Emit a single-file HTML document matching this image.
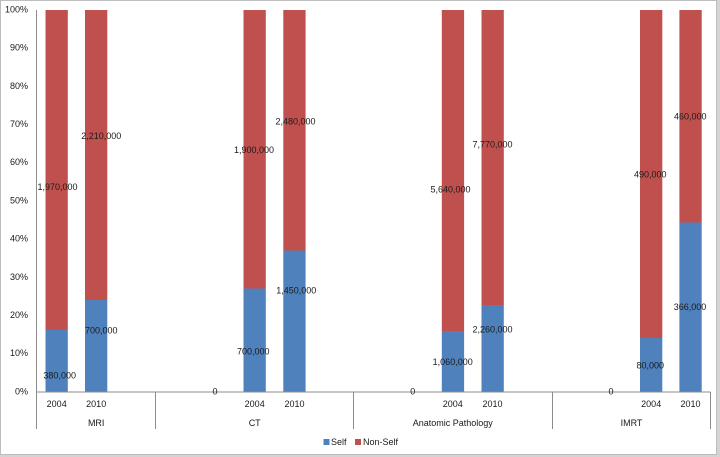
<!DOCTYPE html>
<html><head><meta charset="utf-8"><style>
html,body{margin:0;padding:0;background:#d4d4d4;}
svg{display:block;}
text{font-family:"Liberation Sans",Arial,sans-serif;font-size:9px;fill:#1a1a1a;}
</style></head><body>
<svg width="720" height="457" viewBox="0 0 720 457" xmlns="http://www.w3.org/2000/svg">
<rect x="0" y="0" width="720" height="457" fill="#d4d4d4"/>
<rect x="0.5" y="0.5" width="716" height="454" fill="#ffffff" stroke="#bdbdbd" stroke-width="1"/>

<!-- y axis labels -->
<g text-anchor="end" dominant-baseline="middle">
<text x="28" y="10">100%</text>
<text x="28" y="48.2">90%</text>
<text x="28" y="86.4">80%</text>
<text x="28" y="124.6">70%</text>
<text x="28" y="162.8">60%</text>
<text x="28" y="201">50%</text>
<text x="28" y="239.2">40%</text>
<text x="28" y="277.4">30%</text>
<text x="28" y="315.6">20%</text>
<text x="28" y="353.8">10%</text>
<text x="28" y="392">0%</text>
</g>

<!-- bars: self (blue) bottom, non-self (red) top -->
<g>
<rect x="45.5" y="10" width="22.3" height="319.5" fill="#C0504D"/>
<rect x="45.5" y="329.5" width="22.3" height="62.5" fill="#4F81BD"/>
<rect x="85" y="10" width="22.3" height="290" fill="#C0504D"/>
<rect x="85" y="300" width="22.3" height="92" fill="#4F81BD"/>

<rect x="243.5" y="10" width="22.3" height="278.5" fill="#C0504D"/>
<rect x="243.5" y="288.5" width="22.3" height="103.5" fill="#4F81BD"/>
<rect x="283.3" y="10" width="22.3" height="240.5" fill="#C0504D"/>
<rect x="283.3" y="250.5" width="22.3" height="141.5" fill="#4F81BD"/>

<rect x="441.8" y="10" width="22.3" height="321" fill="#C0504D"/>
<rect x="441.8" y="331" width="22.3" height="61" fill="#4F81BD"/>
<rect x="481.5" y="10" width="22.3" height="295" fill="#C0504D"/>
<rect x="481.5" y="305" width="22.3" height="87" fill="#4F81BD"/>

<rect x="640" y="10" width="22.3" height="328" fill="#C0504D"/>
<rect x="640" y="338" width="22.3" height="54" fill="#4F81BD"/>
<rect x="679.4" y="10" width="22.3" height="212.5" fill="#C0504D"/>
<rect x="679.4" y="222.5" width="22.3" height="169.5" fill="#4F81BD"/>
</g>

<!-- axes -->
<g stroke="#8c8c8c" stroke-width="1" fill="none">
<line x1="36.5" y1="10" x2="36.5" y2="429"/>
<line x1="36.5" y1="392" x2="710.5" y2="392"/>
<line x1="155.5" y1="392" x2="155.5" y2="429"/>
<line x1="353.5" y1="392" x2="353.5" y2="429"/>
<line x1="552.5" y1="392" x2="552.5" y2="429"/>
<line x1="710.5" y1="392" x2="710.5" y2="429"/>
</g>

<!-- data labels -->
<g text-anchor="middle" dominant-baseline="middle">
<text x="57.5" y="187.7">1,970,000</text>
<text x="59.7" y="376">380,000</text>
<text x="101.3" y="136.7">2,210,000</text>
<text x="101.3" y="331">700,000</text>

<text x="215" y="392">0</text>
<text x="254" y="150.7">1,900,000</text>
<text x="253.3" y="352.3">700,000</text>
<text x="295.5" y="122">2,480,000</text>
<text x="296.3" y="291">1,450,000</text>

<text x="412.7" y="392">0</text>
<text x="450.5" y="190.3">5,640,000</text>
<text x="452.7" y="362.7">1,060,000</text>
<text x="492.5" y="145">7,770,000</text>
<text x="492.5" y="330">2,260,000</text>

<text x="611" y="392">0</text>
<text x="650.3" y="175.3">490,000</text>
<text x="650.3" y="366">80,000</text>
<text x="690.3" y="117.3">460,000</text>
<text x="690" y="307.7">366,000</text>
</g>

<!-- category axis labels -->
<g text-anchor="middle" dominant-baseline="middle">
<text x="56.7" y="404.5">2004</text>
<text x="96.2" y="404.5">2010</text>
<text x="254.7" y="404.5">2004</text>
<text x="294.5" y="404.5">2010</text>
<text x="452.8" y="404.5">2004</text>
<text x="492.5" y="404.5">2010</text>
<text x="651.2" y="404.5">2004</text>
<text x="690.5" y="404.5">2010</text>

<text x="96.2" y="423.5">MRI</text>
<text x="254.7" y="423.5">CT</text>
<text x="452.8" y="423.5">Anatomic Pathology</text>
<text x="631.5" y="423.5">IMRT</text>
</g>

<!-- legend -->
<rect x="323.5" y="439" width="6" height="6" fill="#4F81BD"/>
<text x="331" y="442.5" dominant-baseline="middle">Self</text>
<rect x="355" y="439" width="6" height="6" fill="#C0504D"/>
<text x="363" y="442.5" dominant-baseline="middle">Non-Self</text>
</svg>
</body></html>
